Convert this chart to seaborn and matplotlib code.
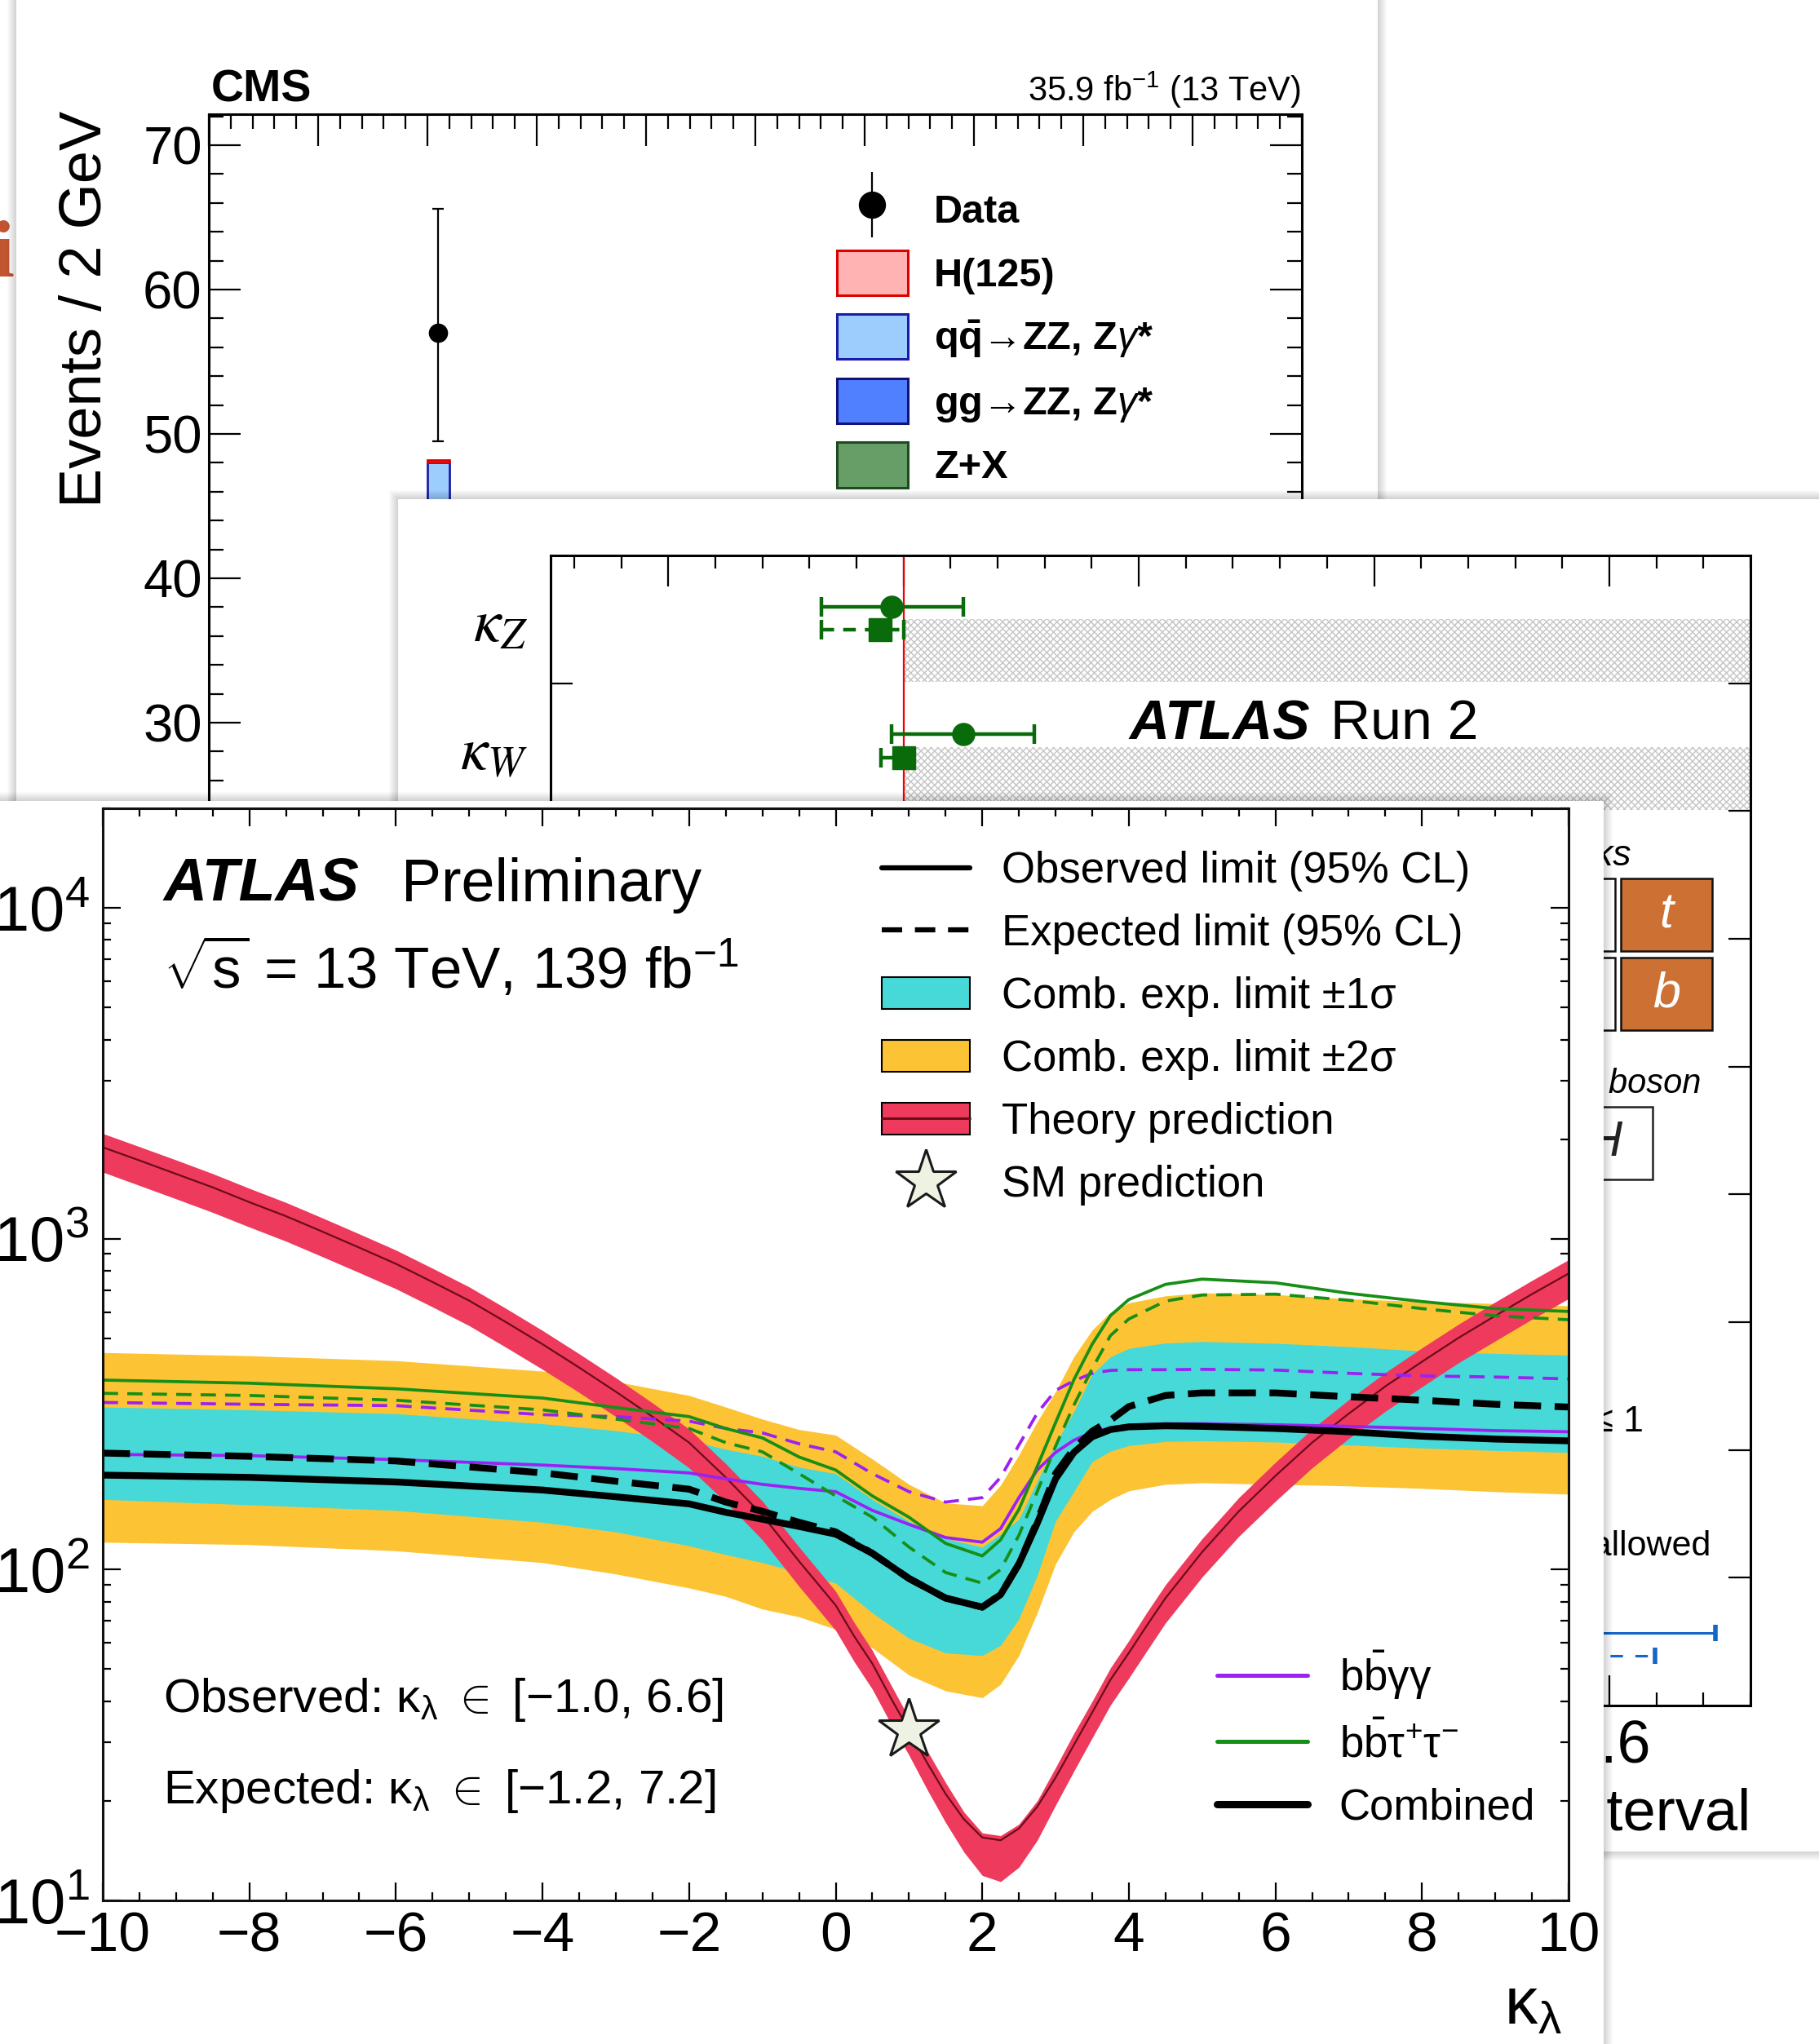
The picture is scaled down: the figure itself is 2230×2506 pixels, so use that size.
import numpy as np
import pandas as pd
import matplotlib
matplotlib.use("Agg")
import matplotlib.pyplot as plt
import seaborn as sns
from matplotlib.patches import Rectangle, Patch
from matplotlib.lines import Line2D
from matplotlib.container import ErrorbarContainer
from matplotlib.ticker import MultipleLocator, LogLocator, NullFormatter
from matplotlib.legend_handler import HandlerErrorbar

# ---------------- CMS panel (back) ----------------
m4l_edges = [80, 82, 84, 86, 88, 90, 92, 94, 96, 98]
zx_evts = [0.5, 0.6, 0.8, 0.9, 1.0, 1.1, 1.0, 0.9, 0.8, 0.7]
gg_evts = [0.1, 0.2, 0.3, 0.4, 0.6, 0.7, 0.5, 0.3, 0.2, 0.1]
qq_evts = [2.5, 4.0, 7.0, 13.0, 28.0, 46.2, 24.0, 9.0, 4.0, 2.0]
h125_evts = [0.02, 0.03, 0.05, 0.08, 0.15, 0.2, 0.15, 0.08, 0.05, 0.03]
data_counts = [3, 5, 9, 16, 31, 57, 27, 11, 5, 3]
data_lo = [1.4, 3.0, 6.2, 12.0, 25.3, 49.5, 21.5, 7.9, 3.0, 1.4]
data_hi = [5.5, 8.4, 13.4, 21.0, 37.6, 65.6, 33.5, 15.3, 8.4, 5.5]
cms_labels = ["Data", "H(125)", r"$\mathbf{q\bar{q}}$→ZZ, Z$\gamma$*", r"gg→ZZ, Z$\gamma$*", "Z+X"]

# ---------------- ATLAS Run 2 kappa panel (middle) ----------------
kappa_labels = [r"$\kappa_{Z}$", r"$\kappa_{W}$", r"$\kappa_{t}$", r"$\kappa_{b}$", r"$\kappa_{\tau}$",
                r"$\kappa_{\mu}$", r"$\kappa_{g}$", r"$\kappa_{\gamma}$", r"$\kappa_{Z\gamma}$"]
row_centers = [0.5, 1.5, 2.5, 3.5, 4.5, 5.5, 6.5, 7.5, 8.5]
row_bounds = [1, 2, 3, 4, 5, 6, 7, 8]
kap_obs = [0.990, 1.051]
kap_obs_lo = [0.930, 0.990]
kap_obs_hi = [1.051, 1.111]
kap_obs_y = [0.40, 1.40]
kap_con = [0.980, 1.000]
kap_con_lo = [0.930, 0.981]
kap_con_hi = [1.000, 1.000]
kap_con_y = [0.58, 1.58]
kap_con_dashed = [True, False]
hatch_y = [0.745, 1.745]
hatch_from = 1.0
blue_val = [1.30, 1.28]
blue_lo = [0.85, 0.88]
blue_hi = [1.690, 1.639]
blue_y = [8.43, 8.61]
blue_dashed = [False, True]
mid_xticks = [0.8, 1.0, 1.2, 1.4, 1.6]
mid_xticklabels = ["0.8", "1", "1.2", "1.4", "1.6"]

# ---------------- ATLAS HH kappa_lambda panel (front) ----------------
kl_grid = [-10, -8, -6, -4, -3, -2, -1.5, -1, -0.5, 0, 0.5, 1, 1.5, 2, 2.25, 2.5, 2.75, 3, 3.25, 3.5,
           3.75, 4, 4.5, 5, 6, 7, 8, 9, 10]
exp_2s_lo = [121, 119, 114, 105, 97, 88, 83, 76, 72, 66, 58, 48, 43, 41, 45, 55, 74, 104, 130, 150,
             163, 173, 181, 183, 181, 179, 176, 172, 169]
exp_2s_hi = [453, 443, 428, 398, 370, 336, 310, 285, 265, 255, 216, 181, 159, 156, 180, 222, 280, 345, 440, 530,
             600, 640, 672, 686, 678, 658, 646, 637, 627]
exp_1s_lo = [163, 157, 151, 139, 130, 118, 111, 105, 98, 91, 74, 62, 56, 55, 59, 71, 96, 140, 172, 212,
             228, 237, 244, 245, 243, 238, 233, 229, 226]
exp_1s_hi = [310, 304, 296, 276, 263, 246, 231, 220, 204, 195, 163, 140, 124, 117, 128, 142, 185, 240, 300, 390,
             440, 466, 484, 489, 483, 472, 458, 450, 445]
comb_obs = [193, 190, 184, 174, 166, 158, 149, 142, 135, 128, 112, 94, 82, 77, 84, 104, 138, 188, 226, 252,
            265, 270, 272, 271, 267, 261, 253, 248, 245]
comb_exp = [225, 220, 213, 196, 185, 175, 160, 150, 139, 130, 112, 94, 82, 77, 84, 104, 140, 195, 232, 262,
            283, 311, 336, 342, 342, 333, 325, 316, 310]
bbyy_obs = [223, 221, 215, 207, 202, 196, 188, 181, 176, 172, 151, 137, 125, 121, 133, 165, 200, 226, 246, 260,
            268, 273, 276, 276, 274, 271, 267, 263, 261]
bbyy_exp = [320, 316, 313, 294, 290, 281, 267, 259, 240, 227, 195, 172, 160, 165, 190, 238, 297, 348, 372, 392,
            400, 402, 402, 403, 401, 392, 385, 382, 377]
bbtt_obs = [374, 366, 352, 330, 309, 290, 267, 250, 219, 200, 167, 144, 120, 110, 123, 152, 205, 278, 375, 480,
            586, 655, 728, 755, 736, 684, 646, 615, 603]
bbtt_exp = [341, 336, 325, 304, 285, 267, 242, 227, 195, 167, 144, 117, 98, 91, 100, 127, 172, 236, 314, 405,
            510, 572, 648, 676, 680, 652, 615, 585, 569]

kl_theory = [-10, -9.5, -9, -8.5, -8, -7.5, -7, -6.5, -6, -5.5, -5, -4.5, -4, -3.5, -3, -2.5, -2, -1.5, -1, -0.5,
             0, 0.25, 0.5, 0.75, 1, 1.25, 1.5, 1.75, 2, 2.25, 2.5, 2.75, 3, 3.25, 3.5, 3.75, 4, 4.25, 4.5,
             5, 5.5, 6, 6.5, 7, 7.5, 8, 8.5, 9, 9.5, 10]
th_c = [1890, 1725, 1570, 1430, 1290, 1170, 1050, 940, 840, 740, 650, 560, 480, 408, 345, 290, 242, 190, 146, 106,
        78, 63, 52, 41, 32.7, 26, 21, 17.6, 15.5, 15.2, 16.5, 19.2, 23.5, 29.5, 37, 46.5, 56, 68, 82,
        113, 150, 192, 242, 296, 358, 425, 502, 585, 680, 785]
th_lo = [1590, 1449, 1320, 1201, 1085, 983, 882, 790, 706, 622, 546, 470, 403, 343, 290, 244, 203, 160, 123, 89,
         65.5, 52.8, 43.5, 34.3, 27.5, 21.6, 17.2, 14.0, 11.9, 11.4, 12.6, 15.2, 19.4, 24.6, 31, 39, 47, 57, 69,
         95, 126, 161, 203, 249, 301, 357, 422, 491, 571, 659]
th_hi = [2080, 1898, 1730, 1573, 1420, 1287, 1155, 1034, 924, 814, 715, 616, 528, 449, 380, 319, 266, 209, 161, 117,
         86, 69.3, 57, 45, 35.6, 28.3, 22.7, 18.5, 16.0, 15.7, 17.0, 20.0, 25.2, 32, 40, 50.5, 61, 74.5, 90,
         124, 165, 211, 266, 326, 394, 468, 552, 644, 748, 864]
sm_kl = [1.0]
sm_xs = [32.7]

# ---------------- style ----------------
sns.set_theme(style="ticks")
plt.rcParams["font.family"] = ["Liberation Sans", "DejaVu Sans"]
plt.rcParams["mathtext.fontset"] = "custom"
plt.rcParams["mathtext.rm"] = "Liberation Sans"
plt.rcParams["mathtext.it"] = "Liberation Sans:italic"
plt.rcParams["mathtext.bf"] = "Liberation Sans:bold"
plt.rcParams["mathtext.sf"] = "Liberation Sans"
plt.rcParams["hatch.linewidth"] = 1.1
for key in ["text.color", "axes.labelcolor", "xtick.color", "ytick.color", "axes.edgecolor"]:
    plt.rcParams[key] = "black"

YEL = "#fcc434"
CYAN = "#47d8d8"
RED = "#ee3a5c"
DKRED = "#6b0c1a"
PURPLE = "#9b22f2"
GREEN = "#178f17"
KGREEN = "#0a6b0a"
BLUE = "#1565c8"

W, H = 2230, 2506
fig = plt.figure(figsize=(W / 100, H / 100), dpi=100)
fig.patch.set_facecolor("white")


def frac_rect(x0, y0, x1, y1):
    return [x0 / W, 1 - y1 / H, (x1 - x0) / W, (y1 - y0) / H]


def card(x0, y0, x1, y1, z):
    for i in range(1, 12):
        fig.add_artist(Rectangle(((x0 - i) / W, 1 - (y1 + i) / H), (x1 - x0 + 2 * i) / W, (y1 - y0 + 2 * i) / H,
                                 transform=fig.transFigure, facecolor="black", edgecolor="none",
                                 alpha=0.017, zorder=z - 0.2))
    fig.add_artist(Rectangle((x0 / W, 1 - y1 / H), (x1 - x0) / W, (y1 - y0) / H, transform=fig.transFigure,
                             facecolor="white", edgecolor="none", zorder=z))


# background fragment of slide text
fig.text(4 / W, 1 - 339 / H, "i", family="Liberation Serif", fontweight="bold", fontsize=72,
         color="#c05530", ha="center", va="baseline", zorder=0.5)

# ======================= CMS card =======================
card(20, -20, 1689, 2530, 1)
axc = fig.add_axes(frac_rect(256, 140, 1596, 1417))
axc.set_zorder(2)
axc.set_facecolor("white")
bottom = np.zeros(len(m4l_edges))
for vals, fc, ec in [(zx_evts, "#679d67", "#1f4a1f"), (gg_evts, "#5080ff", "#12127a"),
                     (qq_evts, "#9dcdfd", "#1c1caa"), (h125_evts, "#ffb3b3", "#dd0000")]:
    axc.bar(m4l_edges, vals, width=2, align="edge", bottom=bottom, color=fc, edgecolor=ec, linewidth=2)
    bottom = bottom + np.array(vals)
centers = [e + 1 for e in m4l_edges]
axc.errorbar(centers, data_counts,
             yerr=[np.subtract(data_counts, data_lo), np.subtract(data_hi, data_counts)],
             fmt="o", color="black", ms=16, elinewidth=1.6, capsize=4.7, capthick=1.6, zorder=5)
axc.set_xlim(70, 170)
axc.set_ylim(0, 72.15)
axc.xaxis.set_major_locator(MultipleLocator(10))
axc.xaxis.set_minor_locator(MultipleLocator(2))
axc.yaxis.set_major_locator(MultipleLocator(10))
axc.yaxis.set_minor_locator(MultipleLocator(2))
axc.tick_params(which="both", direction="in", top=True, right=True, bottom=True, left=True, width=1.6)
axc.tick_params(which="major", length=28)
axc.tick_params(which="minor", length=13)
axc.tick_params(axis="y", labelsize=47, pad=6)
axc.tick_params(axis="x", labelsize=47)
for sp in axc.spines.values():
    sp.set_linewidth(2.2)
axc.text(0.002, 1.0125, "CMS", transform=axc.transAxes, fontsize=40, fontweight="bold",
         ha="left", va="baseline")
axc.text(0.9993, 1.0125, "35.9 fb$^{-1}$ (13 TeV)", transform=axc.transAxes, fontsize=30,
         ha="right", va="baseline")
fig.text(106 / W, 1 - 136 / H, "Events / 2 GeV", rotation=90, ha="center", va="top", fontsize=52, zorder=2.5)

data_h = axc.errorbar([np.nan], [np.nan], yerr=[[1.0]], fmt="o", color="black", ms=23,
                      elinewidth=1.6, capsize=0)
cms_handles = [data_h,
               Patch(facecolor="#ffb3b3", edgecolor="#dd0000", lw=2.2),
               Patch(facecolor="#9dcdfd", edgecolor="#1c1caa", lw=2.2),
               Patch(facecolor="#5080ff", edgecolor="#12127a", lw=2.2),
               Patch(facecolor="#679d67", edgecolor="#1f4a1f", lw=2.2)]
axc.legend(cms_handles, cms_labels, loc="upper left", bbox_to_anchor=(0.5746, 0.9303), frameon=False,
           prop={"size": 35, "weight": "bold"}, handlelength=1.79, handleheight=1.37, labelspacing=0.47,
           handletextpad=0.66, borderpad=0, borderaxespad=0,
           handler_map={ErrorbarContainer: HandlerErrorbar(yerr_size=0.82)})

# ======================= ATLAS Run 2 kappa card =======================
card(488, 612, 2260, 2270, 3)
axm = fig.add_axes(frac_rect(675, 681, 2146, 2091))
axm.set_zorder(4)
axm.set_facecolor("white")
axm.set_xlim(0.7, 1.72)
axm.set_ylim(9, 0)
axm.barh(hatch_y, [1.72 - hatch_from] * len(hatch_y), left=hatch_from, height=0.49, facecolor="none",
         edgecolor="#c8c8c8", linewidth=0, hatch="xxxx", zorder=1)
axm.axvline(1.0, color="#ee0000", lw=1.6, zorder=1.5)
axm.errorbar(kap_obs, kap_obs_y, xerr=[np.subtract(kap_obs, kap_obs_lo), np.subtract(kap_obs_hi, kap_obs)],
             fmt="o", color=KGREEN, ms=19.5, elinewidth=3.2, capsize=8.6, capthick=3.2, zorder=3)
for i in range(len(kap_con)):
    eb = axm.errorbar([kap_con[i]], [kap_con_y[i]],
                      xerr=[[kap_con[i] - kap_con_lo[i]], [kap_con_hi[i] - kap_con[i]]],
                      fmt="s", color=KGREEN, ms=19.5, elinewidth=3.2, capsize=8.6, capthick=3.2, zorder=3)
    if kap_con_dashed[i]:
        eb[2][0].set_linestyle((0, (3.5, 2.5)))
for i in range(len(blue_val)):
    eb = axm.errorbar([blue_val[i]], [blue_y[i]],
                      xerr=[[blue_val[i] - blue_lo[i]], [blue_hi[i] - blue_val[i]]],
                      fmt="s", color=BLUE, ms=12, elinewidth=2.2, capsize=7, capthick=4, zorder=3)
    if blue_dashed[i]:
        eb[2][0].set_linestyle((0, (5, 5)))

axm.set_xticks(mid_xticks, mid_xticklabels)
axm.xaxis.set_minor_locator(MultipleLocator(0.04))
axm.set_yticks(row_centers, kappa_labels)
axm.set_yticks(row_bounds, minor=True)
axm.tick_params(axis="y", which="major", length=0, labelsize=54, pad=20)
axm.tick_params(axis="y", which="minor", direction="in", length=19.4, width=1.6, left=True, right=True)
axm.tick_params(axis="x", which="major", direction="in", length=27, width=1.6, top=True, bottom=True,
                labelsize=53, pad=12)
axm.tick_params(axis="x", which="minor", direction="in", length=11.5, width=1.6, top=True, bottom=True)
for lab in axm.get_yticklabels():
    lab.set_math_fontfamily("stix")
for sp in axm.spines.values():
    sp.set_linewidth(2.2)
axm.set_xlabel("Parameter value with 95% CL interval", fontsize=52, loc="right")
axm.xaxis.set_label_coords(1.0, -0.0716)
axm.text(0.482, 0.8404, "ATLAS", transform=axm.transAxes, fontsize=49, fontweight="bold",
         fontstyle="italic", va="baseline", zorder=5)
axm.text(0.650, 0.8404, "Run 2", transform=axm.transAxes, fontsize=49, va="baseline", zorder=5)
# particle inset
axm.text(0.901, 0.7305, "Quarks", transform=axm.transAxes, fontsize=32, fontstyle="italic",
         ha="right", va="baseline")
for (bx, by, fc, letter) in [(0.811, 0.656, "white", ""), (0.811, 0.5872, "white", ""),
                             (0.892, 0.656, "#cd7033", "t"), (0.892, 0.5872, "#cd7033", "b")]:
    axm.add_patch(Rectangle((bx, by), 0.076, 0.063, transform=axm.transAxes, facecolor=fc,
                            edgecolor="#111111", lw=1.8, zorder=3))
    if letter:
        axm.text(bx + 0.038, by + 0.0315, letter, transform=axm.transAxes, fontsize=44,
                 fontstyle="italic", color="white", ha="center", va="center", zorder=4)
axm.text(0.959, 0.5326, "Higgs boson", transform=axm.transAxes, fontsize=30, fontstyle="italic",
         ha="right", va="baseline")
axm.add_patch(Rectangle((0.8437, 0.4574), 0.0747, 0.0632, transform=axm.transAxes, facecolor="white",
                        edgecolor="#222222", lw=1.8, zorder=3))
axm.text(0.8776, 0.489, "H", transform=axm.transAxes, fontsize=44, fontstyle="italic", color="#222222",
         ha="center", va="center", zorder=4)
axm.text(0.911, 0.2386, "|κV| ≤ 1", transform=axm.transAxes, fontsize=32, ha="right", va="baseline")
axm.text(0.967, 0.1312, "Bi, Bu allowed", transform=axm.transAxes, fontsize=31, ha="right", va="baseline")

# ======================= ATLAS HH card (front) =======================
card(-20, 982, 1966, 2530, 5)
axf = fig.add_axes(frac_rect(126, 991, 1923, 2330))
axf.set_zorder(6)
axf.set_facecolor("white")
axf.set_yscale("log")
axf.fill_between(kl_grid, exp_2s_lo, exp_2s_hi, color=YEL, lw=0, zorder=1.0)
axf.fill_between(kl_grid, exp_1s_lo, exp_1s_hi, color=CYAN, lw=0, zorder=1.1)
axf.fill_between(kl_theory, th_lo, th_hi, color=RED, lw=0, zorder=1.2)
axf.plot(kl_theory, th_c, color=DKRED, lw=1.6, zorder=1.3)

curves = {"bbyy_obs": bbyy_obs, "bbyy_exp": bbyy_exp, "bbtt_exp": bbtt_exp, "bbtt_obs": bbtt_obs,
          "comb_exp": comb_exp, "comb_obs": comb_obs}
df = pd.concat([pd.DataFrame({"kl": kl_grid, "xs": v, "curve": name}) for name, v in curves.items()],
               ignore_index=True)
order = list(curves.keys())
palette = {"bbyy_obs": PURPLE, "bbyy_exp": PURPLE, "bbtt_exp": GREEN, "bbtt_obs": GREEN,
           "comb_exp": "black", "comb_obs": "black"}
dashes = {"bbyy_obs": "", "bbyy_exp": (5, 3), "bbtt_exp": (5, 3), "bbtt_obs": "",
          "comb_exp": (4, 2), "comb_obs": ""}
sizes = {"bbyy_obs": 2.7, "bbyy_exp": 2.7, "bbtt_exp": 2.7, "bbtt_obs": 2.7,
         "comb_exp": 6.0, "comb_obs": 6.0}
sns.lineplot(data=df, x="kl", y="xs", hue="curve", style="curve", size="curve",
             hue_order=order, style_order=order, size_order=order,
             palette=palette, dashes=dashes, sizes=sizes, estimator=None, sort=False,
             legend=False, ax=axf)
axf.plot(sm_kl, sm_xs, ls="none", marker="*", ms=56, mfc="#edf2e3", mec="#1a1a1a", mew=2.2, zorder=4)

axf.set_xlim(-10, 10)
axf.set_ylim(10, 2.0e4)
axf.xaxis.set_major_locator(MultipleLocator(2))
axf.xaxis.set_minor_locator(MultipleLocator(0.5))
axf.yaxis.set_major_locator(LogLocator(base=10, numticks=10))
axf.yaxis.set_minor_locator(LogLocator(base=10, subs=np.arange(2, 10), numticks=20))
axf.yaxis.set_minor_formatter(NullFormatter())
axf.tick_params(which="both", direction="in", top=True, right=True, width=1.6)
axf.tick_params(which="major", length=16)
axf.tick_params(which="minor", length=7.5)
axf.tick_params(axis="x", labelsize=50, pad=9)
axf.tick_params(axis="y", labelsize=56, pad=12)
for sp in axf.spines.values():
    sp.set_linewidth(2.2)
    sp.set_color("#111111")
axf.set_ylabel("")
axf.set_xlabel(r"$\mathrm{\kappa_{\lambda}}$", fontsize=58, loc="right")
axf.xaxis.set_label_coords(0.9955, -0.0685)

axf.text(0.0412, 0.9149, "ATLAS", transform=axf.transAxes, fontsize=53, fontweight="bold",
         fontstyle="italic", va="baseline")
axf.text(0.2037, 0.9149, "Preliminary", transform=axf.transAxes, fontsize=53, va="baseline")
axf.text(0.0412, 0.835, r"$\sqrt{\mathrm{s}}$ = 13 TeV, 139 fb$^{-1}$", transform=axf.transAxes,
         fontsize=51, va="baseline")
axf.text(0.0412, 0.1725, r"Observed: $\mathrm{\kappa_{\lambda}}$ $\in$ [−1.0, 6.6]", transform=axf.transAxes,
         fontsize=42, va="baseline")
axf.text(0.0412, 0.0889, r"Expected: $\mathrm{\kappa_{\lambda}}$ $\in$ [−1.2, 7.2]", transform=axf.transAxes,
         fontsize=42, va="baseline")

leg1_handles = [Line2D([], [], color="black", lw=4.5),
                Line2D([], [], color="black", lw=4.5, ls=(0, (4, 2.5))),
                Patch(facecolor=CYAN, edgecolor="black", lw=1.5),
                Patch(facecolor=YEL, edgecolor="black", lw=1.5),
                (Patch(facecolor=RED, edgecolor="black", lw=1.5), Line2D([], [], color=DKRED, lw=2.2)),
                Line2D([], [], ls="none", marker="*", ms=56, mfc="#edf2e3", mec="#1a1a1a", mew=2.2)]
leg1_labels = ["Observed limit (95% CL)", "Expected limit (95% CL)", "Comb. exp. limit ±1σ",
               "Comb. exp. limit ±2σ", "Theory prediction", "SM prediction"]
leg1 = axf.legend(leg1_handles, leg1_labels, loc="upper left", bbox_to_anchor=(0.5314, 0.9608),
                  frameon=False, fontsize=38, handlelength=2.05, handleheight=0.76, labelspacing=0.51,
                  handletextpad=0.74, borderpad=0, borderaxespad=0)
axf.add_artist(leg1)
leg2_handles = [Line2D([], [], color=PURPLE, lw=3.6), Line2D([], [], color=GREEN, lw=3.6),
                Line2D([], [], color="black", lw=6.5)]
leg2_labels = [r"$\mathrm{b\bar{b}\gamma\gamma}$", r"$\mathrm{b\bar{b}\tau^{+}\tau^{-}}$", "Combined"]
axf.legend(leg2_handles, leg2_labels, loc="upper left", bbox_to_anchor=(0.760, 0.2304),
           frameon=False, fontsize=38, handlelength=2.1, handleheight=0.76, labelspacing=0.5,
           handletextpad=0.74, borderpad=0, borderaxespad=0)

fig.savefig("out.png", dpi=100, facecolor="white")
